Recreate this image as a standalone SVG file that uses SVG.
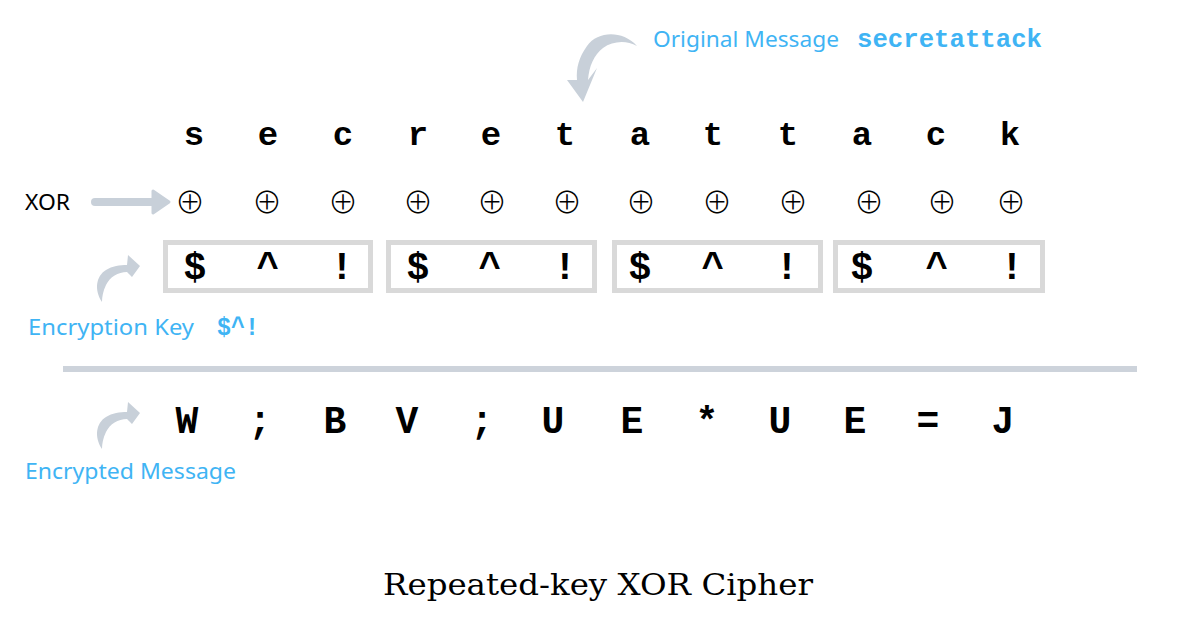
<svg xmlns="http://www.w3.org/2000/svg" width="1200" height="628" viewBox="0 0 1200 628">
<style>
.msg{font-family:"Liberation Mono","Courier New",monospace;font-weight:bold;font-size:34px;fill:#000;text-anchor:middle}
.key{font-family:"Liberation Mono","Courier New",monospace;font-weight:bold;font-size:38px;fill:#000;text-anchor:middle}
.enc{font-family:"Liberation Mono","Courier New",monospace;font-weight:bold;font-size:38px;fill:#000;text-anchor:middle}
.xor{font-family:"Noto Sans CJK JP","DejaVu Sans",sans-serif;font-weight:300;font-size:30px;fill:#000;text-anchor:middle}
.lbl{font-family:"Noto Sans","Open Sans",sans-serif;font-size:22px;fill:#3fb4f4}
.code{font-family:"Liberation Mono","Courier New",monospace;font-weight:bold;font-size:25px;fill:#3fb4f4}
.box{fill:none;stroke:#d9d9d9;stroke-width:5}
.garrow{fill:#c8d0d9}
</style>
<defs>
<path id="curlUp" class="garrow" d="M102,302 C94,290 96,276 106,270 C112,266 120,265 127,265 L128,255 L140,266 L132,277 L127,272 C118,272 110,277 106,285 C103,291 102,297 102,302 Z"/>
</defs>

<g id="title-original">
<path class="garrow" d="M637,46 C622,30 598,31 587,46 C579,57 576,68 577,80 L567,80 L583,102 L597,68 L588,80 C589,66 594,55 603,48 C613,41 626,40 637,46 Z"/>
<text class="lbl" x="653" y="47" textLength="186" lengthAdjust="spacingAndGlyphs">Original Message</text>
<text class="code" x="857" y="47" textLength="185" lengthAdjust="spacingAndGlyphs">secretattack</text>
</g>

<g id="message">
<text class="msg" x="194" y="145">s</text>
<text class="msg" x="268" y="145">e</text>
<text class="msg" x="343" y="145">c</text>
<text class="msg" x="418" y="145">r</text>
<text class="msg" x="491" y="145">e</text>
<text class="msg" x="565" y="145">t</text>
<text class="msg" x="640" y="145">a</text>
<text class="msg" x="713" y="145">t</text>
<text class="msg" x="788" y="145">t</text>
<text class="msg" x="862" y="145">a</text>
<text class="msg" x="936" y="145">c</text>
<text class="msg" x="1010" y="145">k</text>
</g>

<g id="xor-row">
<text x="25" y="210" font-family="Noto Sans, Open Sans, sans-serif" font-size="22" fill="#000" textLength="45" lengthAdjust="spacingAndGlyphs">XOR</text>
<text class="xor" x="190" y="213">⊕</text>
<text class="xor" x="267" y="213">⊕</text>
<text class="xor" x="343" y="213">⊕</text>
<text class="xor" x="418" y="213">⊕</text>
<text class="xor" x="492" y="213">⊕</text>
<text class="xor" x="567" y="213">⊕</text>
<text class="xor" x="641" y="213">⊕</text>
<text class="xor" x="717" y="213">⊕</text>
<text class="xor" x="793" y="213">⊕</text>
<text class="xor" x="869" y="213">⊕</text>
<text class="xor" x="942" y="213">⊕</text>
<text class="xor" x="1011" y="213">⊕</text>
</g>

<g id="key-1">
<rect class="box" x="165.5" y="242.5" width="205" height="48"/>
<text class="key" x="195" y="279">$</text>
<text class="key" x="268" y="279">^</text>
<text class="key" x="342" y="279">!</text>
</g>
<g id="key-2">
<rect class="box" x="388.5" y="242.5" width="206" height="48"/>
<text class="key" x="418" y="279">$</text>
<text class="key" x="490" y="279">^</text>
<text class="key" x="565" y="279">!</text>
</g>
<g id="key-3">
<rect class="box" x="614.5" y="242.5" width="206" height="48"/>
<text class="key" x="640" y="279">$</text>
<text class="key" x="713" y="279">^</text>
<text class="key" x="787" y="279">!</text>
</g>
<g id="key-4">
<rect class="box" x="835.5" y="242.5" width="207" height="48"/>
<text class="key" x="862" y="279">$</text>
<text class="key" x="937" y="279">^</text>
<text class="key" x="1012" y="279">!</text>
</g>

<g id="key-label">
<use href="#curlUp"/>
<text class="lbl" x="28" y="335" textLength="166" lengthAdjust="spacingAndGlyphs">Encryption Key</text>
<text class="code" x="217" y="335" font-size="23" textLength="42" lengthAdjust="spacingAndGlyphs">$^!</text>
</g>

<g id="connectors">
<line x1="95" y1="202" x2="156" y2="202" stroke="#c8d0d9" stroke-width="8" stroke-linecap="round"/>
<polygon points="153,191 169,202 153,213" fill="#c8d0d9" stroke="#c8d0d9" stroke-width="3" stroke-linejoin="round"/>
<line x1="63" y1="369" x2="1137" y2="369" stroke="#cdd3db" stroke-width="6"/>
</g>

<g id="encrypted">
<text class="enc" x="187" y="433">W</text>
<text class="enc" x="260" y="433">;</text>
<text class="enc" x="335" y="433">B</text>
<text class="enc" x="407" y="433">V</text>
<text class="enc" x="482" y="433">;</text>
<text class="enc" x="553" y="433">U</text>
<text class="enc" x="632" y="433">E</text>
<text class="enc" x="707" y="433">*</text>
<text class="enc" x="780" y="433">U</text>
<text class="enc" x="855" y="433">E</text>
<text class="enc" x="928" y="433">=</text>
<text class="enc" x="1003" y="433">J</text>
</g>

<g id="encrypted-label">
<use href="#curlUp" transform="translate(0,147)"/>
<text class="lbl" x="25" y="479" textLength="211" lengthAdjust="spacingAndGlyphs">Encrypted Message</text>
</g>

<g id="caption">
<text x="383" y="595" font-family="DejaVu Serif, serif" font-size="30" fill="#000" textLength="430" lengthAdjust="spacingAndGlyphs">Repeated-key XOR Cipher</text>
</g>
</svg>
